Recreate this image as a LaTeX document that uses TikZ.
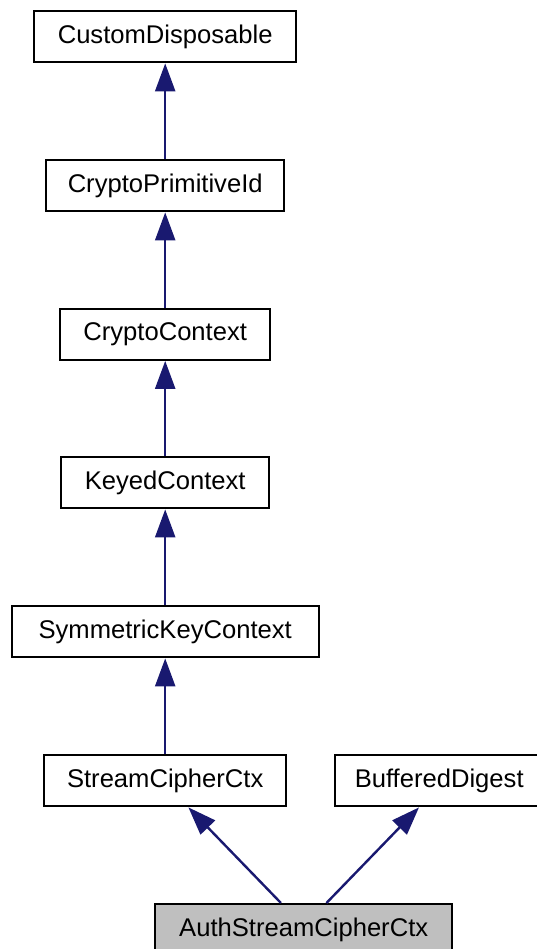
\documentclass[tikz,border=0pt]{standalone}
\usepackage{fontspec}
\setmainfont{Liberation Sans}
\usetikzlibrary{arrows.meta,calc}
\definecolor{edgeblue}{HTML}{191970}
\definecolor{hilite}{HTML}{BFBFBF}
\tikzset{
  cls/.style={draw=black, line width=2.4pt, fill=white, inner sep=0pt,
    minimum height=51pt, font=\fontsize{25.6pt}{30pt}\selectfont, anchor=north west},
  inherit/.style={draw=edgeblue, line width=2.4pt,
    -{Triangle[length=28pt,width=20pt]}, color=edgeblue},
}
\begin{document}
\begin{tikzpicture}[x=1pt,y=-1pt]
  \useasboundingbox (0,0) rectangle (537,949);
  \clip (0,0) rectangle (537,949);
  \node[cls, minimum width=262pt] (cd)  at (33,10)    {CustomDisposable};
  \node[cls, minimum width=238pt] (cpi) at (45,159)   {CryptoPrimitiveId};
  \node[cls, minimum width=210pt] (cc)  at (59,307.5) {CryptoContext};
  \node[cls, minimum width=208pt] (kc)  at (60,456)   {KeyedContext};
  \node[cls, minimum width=307pt] (skc) at (10.5,605) {SymmetricKeyContext};
  \node[cls, minimum width=242pt] (scc) at (43,754)   {StreamCipherCtx};
  \node[cls, minimum width=208pt] (bd)  at (334,754)  {BufferedDigest};
  \node[cls, minimum width=297pt, fill=hilite] (asc) at (154,903) {AuthStreamCipherCtx};

  \draw[inherit] (cpi.north) -- (cd.south);
  \draw[inherit] (cc.north)  -- (cpi.south);
  \draw[inherit] (kc.north)  -- (cc.south);
  \draw[inherit] (skc.north) -- (kc.south);
  \draw[inherit] (scc.north) -- (skc.south);
  \draw[inherit] ($(asc.north west)!0.424!(asc.north east)$) -- ($(scc.south west)!0.595!(scc.south east)$);
  \draw[inherit] ($(asc.north west)!0.576!(asc.north east)$) -- ($(bd.south west)!0.404!(bd.south east)$);
\end{tikzpicture}
\end{document}
